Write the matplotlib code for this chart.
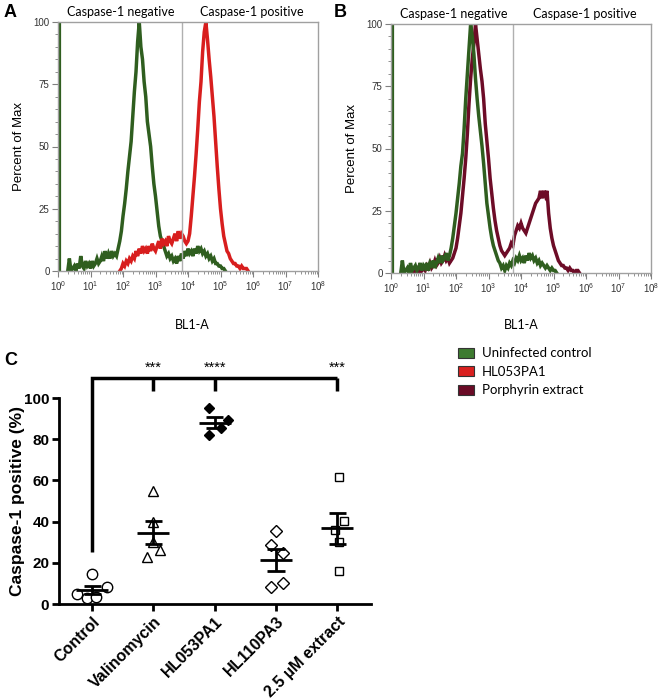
import numpy as np
import matplotlib
matplotlib.use("Agg")
import matplotlib.pyplot as plt
from matplotlib.ticker import LogLocator, MultipleLocator, NullFormatter
from matplotlib.patches import Patch

# ---------------- data ----------------
# histogram grid: log10(BL1-A) from 0 to 6 in 0.05 steps
log_grid = np.round(np.arange(0, 6.001, 0.05), 2)

green_A = ([0, 0, 0, 0, 0, 0, 0, 5, 0, 1] + [2, 0, 3, 1, 6, 2, 1, 4, 2, 3] +
           [1, 4, 2, 3, 5, 3, 4, 6, 4, 8] + [5, 7, 5, 8, 6, 7, 6, 9, 12, 16] +
           [22, 27, 33, 40, 46, 52, 62, 72, 80, 92] + [100, 90, 85, 76, 70, 60, 55, 50, 42, 35] +
           [30, 24, 18, 14, 12, 10, 8, 6, 7, 5] + [6, 4, 5, 3, 6, 4, 7, 5, 8, 6] +
           [9, 7, 8, 6, 9, 7, 10, 8, 9, 7] + [8, 6, 7, 5, 6, 4, 5, 3, 3, 2] +
           [2, 1, 1, 0, 0, 0, 0, 0, 0, 0] + [0] * 10 + [0])
red_A = ([0] * 10 + [0] * 10 + [0] * 10 + [0, 0, 0, 0, 0, 0, 0, 0, 0, 1] +
         [3, 2, 4, 3, 5, 4, 6, 5, 8, 6] + [9, 7, 10, 8, 9, 7, 10, 8, 11, 9] +
         [8, 10, 12, 9, 13, 11, 12, 10, 14, 12] + [11, 13, 15, 12, 16, 13, 15, 14, 12, 11] +
         [12, 15, 22, 30, 38, 47, 57, 68, 76, 88] + [96, 100, 93, 85, 78, 70, 62, 52, 42, 33] +
         [25, 19, 14, 11, 8, 7, 5, 4, 3, 3] + [2, 2, 1, 2, 1, 1, 1, 0, 0, 0] + [0])
green_B = ([0, 0, 0, 0, 0, 0, 0, 5, 0, 1] + [2, 0, 4, 1, 2, 3, 1, 2, 4, 1] +
           [3, 2, 4, 1, 4, 3, 5, 2, 4, 6] + [4, 7, 5, 6, 8, 5, 7, 10, 14, 19] +
           [24, 30, 36, 43, 48, 58, 70, 80, 90, 100] + [95, 88, 78, 70, 63, 57, 51, 44, 36, 28] +
           [23, 18, 14, 11, 9, 7, 5, 4, 2, 3] + [1, 3, 2, 4, 3, 5, 4, 6, 5, 7] +
           [5, 6, 4, 7, 5, 8, 6, 7, 5, 6] + [4, 5, 3, 4, 3, 2, 3, 2, 1, 2] +
           [1, 1, 0, 0, 0, 0, 0, 0, 0, 0] + [0] * 10 + [0])
maroon_B = ([0] * 10 + [0, 0, 3, 0, 0, 1, 0, 2, 0, 1] +
            [2, 1, 3, 2, 4, 2, 3, 5, 3, 4] + [6, 4, 5, 7, 5, 6, 4, 5, 6, 8] +
            [10, 14, 19, 24, 31, 38, 46, 56, 68, 78] + [86, 92, 100, 94, 88, 82, 77, 70, 60, 53] +
            [46, 38, 32, 26, 21, 17, 14, 11, 9, 8] + [7, 8, 9, 10, 12, 11, 15, 17, 19, 18] +
            [20, 18, 17, 16, 18, 20, 22, 24, 26, 28] + [29, 30, 33, 30, 33, 31, 33, 24, 18, 14] +
            [11, 9, 7, 5, 4, 3, 3, 2, 2, 1] + [2, 1, 1, 0, 1, 1, 0, 0, 0, 0] + [0])

zero_bin_A = 100      # saturated first-channel bin (green)
zero_bin_B = 100
zero_bin_pos = 1.12
gate_A = 6600
gate_B = 5600

legend_labels = ["Uninfected control", "HL053PA1", "Porphyrin extract"]

# panel C
groups = ["Control", "Valinomycin", "HL053PA1", "HL110PA3", "2.5 \u00b5M extract"]
control = [14.6, 4.9, 2.9, 3.4, 8.1]
valinomycin = [54.7, 39.6, 30.0, 22.8, 26.4]
hl053pa1 = [95.1, 89.5, 85.4, 82.2]
hl110pa3 = [35.3, 28.5, 24.8, 8.1, 10.2]
extract = [61.5, 40.1, 36.1, 30.1, 15.9]
jitter = [[0, -0.245, -0.09, 0.07, 0.245],
          [0, 0, 0, -0.11, 0.11],
          [-0.1, 0.22, 0.11, -0.1],
          [0, -0.08, 0.12, -0.08, 0.12],
          [0.03, 0.11, -0.04, 0.03, 0.03]]
sig_groups = [1, 2, 4]
sig_labels = ["***", "****", "***"]

# ---------------- style ----------------
GREEN = "#2f5e1f"
RED = "#d81e1e"
MAROON = "#6d0c27"
LEG_GREEN = "#3e7b30"
LEG_RED = "#d9201f"
LEG_MAROON = "#6a0b26"
CAL = ["Lato", "DejaVu Sans"]

plt.rcParams["font.family"] = ["Liberation Sans", "DejaVu Sans"]

fig = plt.figure(figsize=(6.6, 7.0), dpi=100)

def hist_axes(rect, curves, zero_bin, gate, label_x):
    ax = fig.add_axes(rect)
    x = 10 ** log_grid
    for vals, col in curves:
        v = np.array(vals, dtype=float)
        nz = np.nonzero(v)[0]
        lo, hi = max(nz[0] - 1, 0), min(nz[-1] + 1, len(v) - 1)
        ax.plot(x[lo:hi + 1], v[lo:hi + 1], color=col, lw=2.5, solid_joinstyle="miter")
    ax.vlines(zero_bin_pos, 0, zero_bin, color=GREEN, lw=1.6)
    ax.axvline(gate, color="#b0b0b0", lw=1.0)
    ax.set_xscale("log")
    ax.set_xlim(1, 1e8)
    ax.set_ylim(0, 100)
    ax.xaxis.set_major_locator(LogLocator(base=10, numticks=10))
    ax.xaxis.set_minor_locator(LogLocator(base=10, subs=np.arange(2, 10), numticks=20))
    ax.xaxis.set_minor_formatter(NullFormatter())
    ax.yaxis.set_major_locator(MultipleLocator(25))
    ax.yaxis.set_minor_locator(MultipleLocator(5))
    for s in ax.spines.values():
        s.set_color("#a0a0a0")
        s.set_linewidth(1.0)
    ax.tick_params(which="major", length=4, width=0.8, color="#808080",
                   labelsize=7, labelcolor="#333333", pad=2)
    ax.tick_params(which="minor", length=2, width=0.6, color="#808080")
    ax.set_ylabel("Percent of Max", fontsize=9.5, labelpad=6)
    ax.text(0.24, 1.015, "Caspase-1 negative", transform=ax.transAxes, ha="center",
            va="bottom", fontsize=9, family=CAL)
    ax.text(0.745, 1.015, "Caspase-1 positive", transform=ax.transAxes, ha="center",
            va="bottom", fontsize=9, family=CAL)
    fig.text(label_x / 660, 1 - 325 / 700, "BL1-A", ha="center", va="center",
             fontsize=9, family=CAL)
    return ax

axA = hist_axes([58 / 660, 1 - 271 / 700, 260 / 660, 249 / 700],
                [(green_A, GREEN), (red_A, RED)], zero_bin_A, gate_A, 192)
axB = hist_axes([391 / 660, 1 - 273 / 700, 260 / 660, 249 / 700],
                [(maroon_B, MAROON), (green_B, GREEN)], zero_bin_B, gate_B, 521)

fig.text(4 / 660, 1 - 4 / 700, "A", fontsize=13, fontweight="bold", va="top", ha="left")
fig.text(334 / 660, 1 - 4 / 700, "B", fontsize=13, fontweight="bold", va="top", ha="left")
fig.text(4 / 660, 1 - 352 / 700, "C", fontsize=13, fontweight="bold", va="top", ha="left")

handles = [Patch(facecolor=c, edgecolor="#333333", linewidth=0.8)
           for c in (LEG_GREEN, LEG_RED, LEG_MAROON)]
leg = fig.legend(handles, legend_labels, loc="upper left",
                 bbox_to_anchor=(449 / 660, 1 - 338 / 700), frameon=False,
                 handlelength=1.2, handleheight=0.8, handletextpad=0.6,
                 labelspacing=0.5, borderpad=0.2,
                 prop={"family": CAL, "size": 9.5})

# ---------------- panel C ----------------
axC = fig.add_axes([59 / 660, 1 - 604 / 700, 312 / 660, 206 / 700])
series = [control, valinomycin, hl053pa1, hl110pa3, extract]
markers = ["o", "^", "D", "D", "s"]
msizes = [7.5, 7.5, 5.5, 6, 6.2]
filled = [False, False, True, False, False]
for i, (vals, mk, ms, fl, jit) in enumerate(zip(series, markers, msizes, filled, jitter)):
    xs = np.array(jit) + i
    axC.plot(xs, vals, linestyle="none", marker=mk, ms=ms,
             mfc="black" if fl else "white", mec="black", mew=1.0, zorder=3)
    m = np.mean(vals)
    sem = np.std(vals, ddof=1) / np.sqrt(len(vals))
    axC.hlines(m, i - 0.26, i + 0.26, color="black", lw=2.0, zorder=4)
    axC.hlines([m - sem, m + sem], i - 0.14, i + 0.14, color="black", lw=2.0, zorder=4)
    axC.vlines(i, m - sem, m + sem, color="black", lw=2.0, zorder=4)

axC.set_xlim(-0.54, 4.55)
axC.set_ylim(0, 100)
axC.set_xticks(range(len(groups)))
axC.set_xticklabels(groups, rotation=45, ha="right", rotation_mode="anchor",
                    fontsize=11.5, fontweight="bold")
axC.set_yticks([0, 20, 40, 60, 80, 100])
axC.set_yticklabels([0, 20, 40, 60, 80, 100], fontweight="bold", fontsize=11)
axC.tick_params(axis="both", length=5, width=2, pad=2)
axC.spines["top"].set_visible(False)
axC.spines["right"].set_visible(False)
axC.spines["left"].set_linewidth(2)
axC.spines["bottom"].set_linewidth(2)
axC.set_ylabel("Caspase-1 positive (%)", fontsize=12.5, fontweight="bold")
axC.yaxis.set_label_coords(-0.108, 0.5)

# significance bracket
y_top, y_drop, y_ctrl = 109.7, 103.4, 25.2
axC.plot([0, 0, sig_groups[-1]], [y_ctrl, y_top, y_top], color="black", lw=2.5,
         clip_on=False, solid_capstyle="butt", solid_joinstyle="miter")
for g, lab in zip(sig_groups, sig_labels):
    axC.plot([g, g], [y_top, y_drop], color="black", lw=2.5, clip_on=False,
             solid_capstyle="butt")
    axC.text(g, 114.8, lab, ha="center", va="center", fontsize=10.5, clip_on=False)

fig.savefig("out.png", dpi=100)
